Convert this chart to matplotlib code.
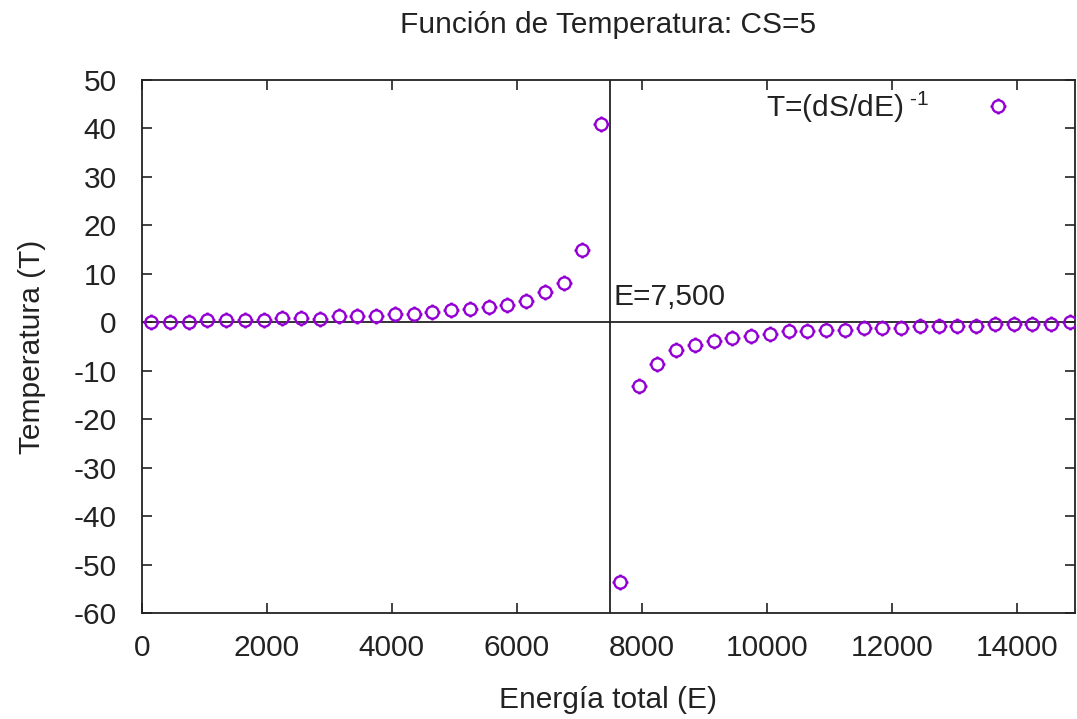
import numpy as np
import matplotlib
matplotlib.use("Agg")
import matplotlib.pyplot as plt
from matplotlib.path import Path

plt.rcParams['font.family'] = ['Liberation Sans', 'DejaVu Sans']
plt.rcParams['mathtext.fontset'] = 'custom'
plt.rcParams['mathtext.rm'] = 'Liberation Sans'
plt.rcParams['mathtext.it'] = 'Liberation Sans'
plt.rcParams['axes.unicode_minus'] = False

# energia total (E) y temperatura T=(dS/dE)^-1
energia = [150, 450, 750, 1050, 1350, 1650, 1950, 2250, 2550, 2850,
           3150, 3450, 3750, 4050, 4350, 4650, 4950, 5250, 5550, 5850,
           6150, 6450, 6750, 7050, 7350,
           7650, 7950, 8250, 8550, 8850, 9150, 9450, 9750, 10050, 10350,
           10650, 10950, 11250, 11550, 11850, 12150, 12450, 12750, 13050, 13350,
           13650, 13950, 14250, 14550, 14850]
temperatura = [0.06, 0.06, 0.06, 0.55, 0.55, 0.41, 0.55, 0.89, 0.89, 0.76,
               1.24, 1.24, 1.24, 1.65, 1.65, 2.13, 2.48, 2.83, 3.16, 3.51,
               4.33, 6.25, 8.19, 14.86, 41.0,
               -53.5, -13.2, -8.67, -5.78, -4.75, -3.86, -3.16, -2.75, -2.33, -1.79,
               -1.86, -1.51, -1.51, -1.18, -1.18, -1.09, -0.76, -0.76, -0.76, -0.76,
               -0.27, -0.27, -0.27, -0.27, 0.06]

xticks = [0, 2000, 4000, 6000, 8000, 10000, 12000, 14000]
yticks = [-60, -50, -40, -30, -20, -10, 0, 10, 20, 30, 40, 50]
e_mitad = 7500

# circulo con pequenas marcas, como el punto de gnuplot
circ = Path.unit_circle()
stubs = Path([(1, 0), (1.3, 0), (-1, 0), (-1.3, 0), (0, 1), (0, 1.3), (0, -1), (0, -1.3)],
             [Path.MOVETO, Path.LINETO] * 4)
marca = Path.make_compound_path(circ, stubs)

color = '#9400d3'
gris = '#222222'
fs = 21.5

fig = plt.figure(figsize=(10.77, 7.19), dpi=100)
ax = fig.add_subplot(111)
fig.subplots_adjust(left=0.1316, right=0.998, top=0.8887, bottom=0.1474)

ax.axvline(e_mitad, color=gris, lw=1.3, zorder=1)
ax.axhline(0, color=gris, lw=1.3, zorder=1)

ax.plot(energia, temperatura, linestyle='none', marker=marca, markersize=11.5,
        markerfacecolor='none', markeredgecolor=color, markeredgewidth=1.7,
        label=r'T=(dS/dE)$^{\text{ -1}}$', zorder=3)

ax.text(e_mitad + 50, 2.4, 'E=7,500', fontsize=fs, color=gris, ha='left', va='bottom')

ax.set_xlim(0, 14930)
ax.set_ylim(-60, 50)
ax.set_xticks(xticks)
ax.set_yticks(yticks)
ax.tick_params(direction='in', length=7, width=1.2, top=True, right=True,
               labelsize=fs, colors=gris)
ax.tick_params(axis='y', pad=18)
ax.tick_params(axis='x', pad=15)
for s in ax.spines.values():
    s.set_color(gris)
    s.set_linewidth(1.3)

ax.set_xlabel('Energía total (E)', fontsize=fs, color=gris, labelpad=17.5)
ax.set_ylabel('Temperatura (T)', fontsize=fs, color=gris, labelpad=20)
ax.set_title('Función de Temperatura: CS=5', fontsize=fs, color=gris, pad=34)

ax.legend(loc='upper right', bbox_to_anchor=(0.962, 1.033), frameon=False,
          markerfirst=False, fontsize=fs, handlelength=1.0, handletextpad=1.8,
          labelcolor=gris)

fig.savefig('out.png', dpi=100)
